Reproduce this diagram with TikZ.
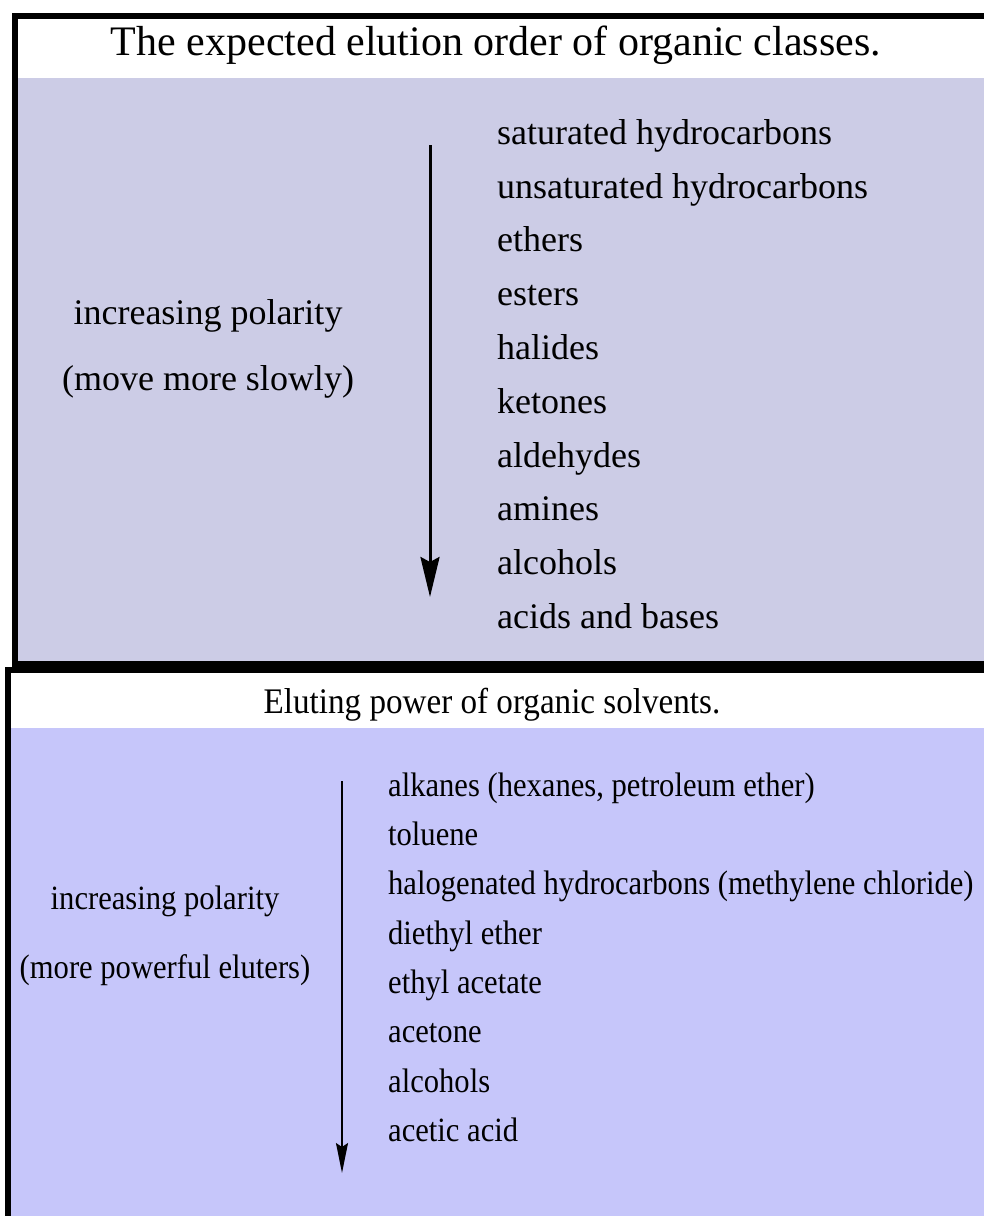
\documentclass[tikz,border=0pt]{standalone}
\usepackage{fontspec}
\setmainfont{Liberation Serif}
\usetikzlibrary{arrows.meta}
\definecolor{panelgrey}{RGB}{204,204,230}
\definecolor{panellilac}{RGB}{198,198,250}

\begin{document}
\begin{tikzpicture}[x=1pt,y=-1pt,
    every node/.style={inner sep=0pt,font=\fontsize{36}{36}\selectfont},
    classitem/.style={anchor=mid west},
    solvitem/.style={anchor=mid west,xscale=0.9,font=\fontsize{34}{34}\selectfont}]
  \useasboundingbox (0,0) rectangle (984,1216);
  \clip (0,0) rectangle (984,1216);
  \fill[white] (0,0) rectangle (984,1216);
  % upper panel: organic classes
  \fill[panelgrey] (15,78) rectangle (990,664);
  \draw[line width=6pt] (15,16) rectangle (990,664);
  \node[anchor=base,font=\fontsize{42}{42}\selectfont] (ttlA) at (496,55) {The expected elution order of organic classes.};
  \node[anchor=mid] (polA) at (208,322) {increasing polarity};
  \node[anchor=mid] (slowA) at (208,388) {(move more slowly)};
  \coordinate (arrAtop) at (430,145);
  \coordinate (arrAend) at (430,597);
  \draw[line width=3pt,-{Stealth[length=40pt,width=19pt,inset=5pt]}] (arrAtop) -- (arrAend);
  \node[classitem] (c1) at (497,142.0) {saturated hydrocarbons};
  \node[classitem] (c2) at (497,195.8) {unsaturated hydrocarbons};
  \node[classitem] (c3) at (497,249.6) {ethers};
  \node[classitem] (c4) at (497,303.3) {esters};
  \node[classitem] (c5) at (497,357.1) {halides};
  \node[classitem] (c6) at (497,410.9) {ketones};
  \node[classitem] (c7) at (497,464.7) {aldehydes};
  \node[classitem] (c8) at (497,518.4) {amines};
  \node[classitem] (c9) at (497,572.2) {alcohols};
  \node[classitem] (c10) at (497,626.0) {acids and bases};
  % lower panel: solvents
  \fill[panellilac] (8,728) rectangle (990,1230);
  \draw[line width=6pt] (8,670) rectangle (990,1230);
  \node[anchor=base,xscale=0.92] (ttlB) at (492,713) {Eluting power of organic solvents.};
  \node[anchor=mid,xscale=0.9,font=\fontsize{34}{34}\selectfont] (polB) at (165,907) {increasing polarity};
  \node[anchor=mid,xscale=0.9,font=\fontsize{34}{34}\selectfont] (powB) at (165,976) {(more powerful eluters)};
  \coordinate (arrBtop) at (342,781);
  \coordinate (arrBend) at (342,1173);
  \draw[line width=1.6pt,-{Stealth[length=30pt,width=12pt,inset=4pt]}] (arrBtop) -- (arrBend);
  \node[solvitem] (s1) at (388,794.0) {alkanes (hexanes, petroleum ether)};
  \node[solvitem] (s2) at (388,843.3) {toluene};
  \node[solvitem] (s3) at (388,892.6) {halogenated hydrocarbons (methylene chloride)};
  \node[solvitem] (s4) at (388,941.9) {diethyl ether};
  \node[solvitem] (s5) at (388,991.1) {ethyl acetate};
  \node[solvitem] (s6) at (388,1040.4) {acetone};
  \node[solvitem] (s7) at (388,1089.7) {alcohols};
  \node[solvitem] (s8) at (388,1139.0) {acetic acid};
\end{tikzpicture}
\end{document}
